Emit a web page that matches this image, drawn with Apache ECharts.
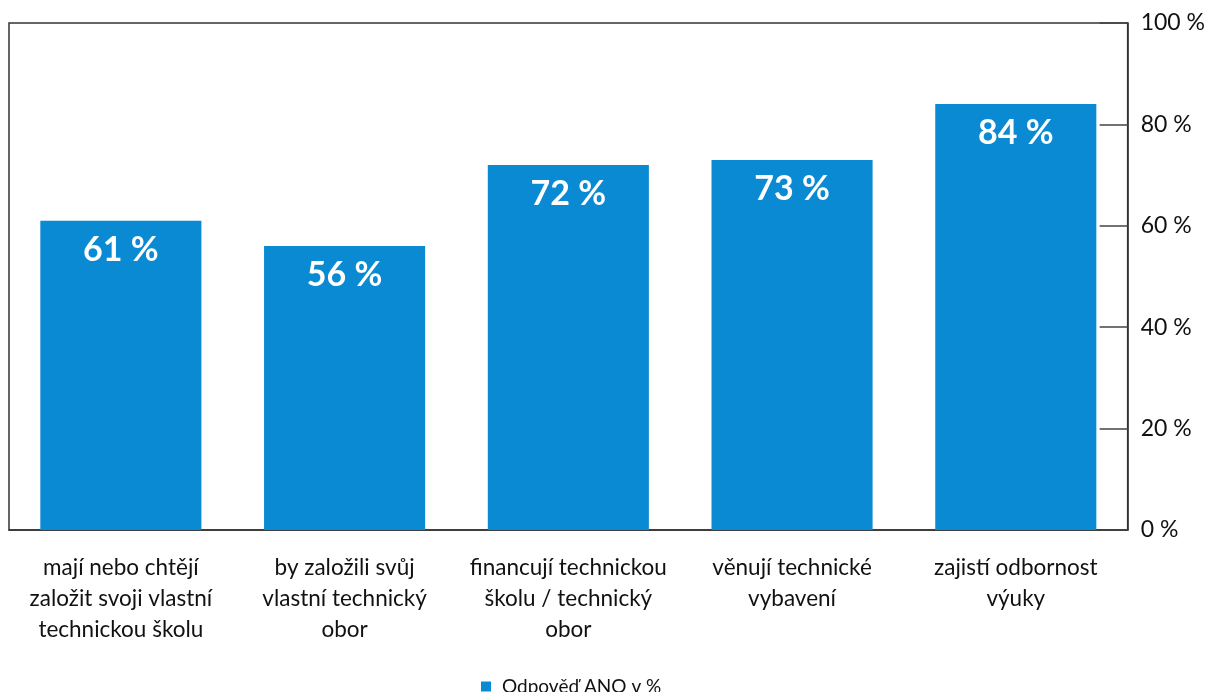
<!DOCTYPE html>
<html>
<head>
<meta charset="utf-8">
<script src="https://cdn.jsdelivr.net/npm/echarts@6/dist/echarts.min.js"></script>
<style>
  html, body { margin: 0; padding: 0; background: #fff; }
  #chart { width: 1208px; height: 692px; }
</style>
</head>
<body>
<div id="chart"></div>
<script>
// data
const categories = [
    'mají nebo chtějí\nzaložit svoji vlastní\ntechnickou školu',
    'by založili svůj\nvlastní technický\nobor',
    'financují technickou\nškolu / technický\nobor',
    'věnují technické\nvybavení',
    'zajistí odbornost\nvýuky'
];
const values = [61, 56, 72, 73, 84];
const seriesName = 'Odpověď ANO v %';

const FONT = 'Lato, "Open Sans", sans-serif';

const chart = echarts.init(document.getElementById('chart'));
chart.setOption({
    animation: false,
    textStyle: { fontFamily: FONT },
    grid: {
        left: 9, right: 79, top: 23, bottom: 162,
        show: true, borderColor: '#333', borderWidth: 1.5,
        containLabel: false
    },
    legend: {
        bottom: -9, left: 476,
        itemWidth: 10, itemHeight: 10, itemGap: 10,
        icon: 'rect',
        textStyle: { fontSize: 19, color: '#111', fontFamily: FONT, padding: [0, 0, 0, 6] },
        data: [seriesName]
    },
    xAxis: {
        type: 'category',
        data: categories,
        axisTick: { show: false },
        axisLine: { lineStyle: { color: '#333', width: 1.5 } },
        axisLabel: {
            interval: 0, margin: 22,
            fontSize: 22.5, lineHeight: 31, color: '#111',
            fontFamily: FONT
        }
    },
    yAxis: {
        type: 'value',
        position: 'right',
        min: 0, max: 100, interval: 20,
        splitLine: { show: false },
        axisLine: { show: true, lineStyle: { color: '#333', width: 1.5 } },
        axisTick: { show: true, inside: true, length: 28, lineStyle: { color: '#444', width: 1.5 } },
        axisLabel: {
            formatter: '{value} %', margin: 13,
            fontSize: 23, color: '#111', fontFamily: FONT
        }
    },
    series: [{
        name: seriesName,
        type: 'bar',
        data: values,
        barWidth: '72%',
        itemStyle: { color: '#0a8ad3' },
        label: {
            show: true, position: 'insideTop', distance: 12,
            formatter: '{c} %',
            color: '#fff', fontSize: 34, fontWeight: 'bold', fontFamily: FONT
        }
    }]
});
</script>
</body>
</html>
